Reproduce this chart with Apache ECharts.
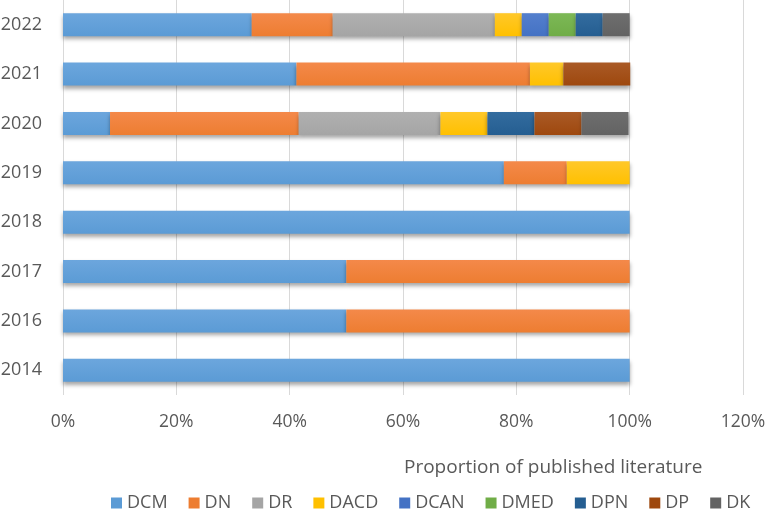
<!DOCTYPE html>
<html>
<head>
<meta charset="utf-8">
<script src="https://cdn.jsdelivr.net/npm/echarts@6/dist/echarts.min.js"></script>
<style>
  html, body { margin: 0; padding: 0; background: #fff; }
  #chart { width: 766px; height: 511px; }
</style>
</head>
<body>
<div id="chart"></div>
<script>
// categories, bottom to top
const years = ['2014', '2016', '2017', '2018', '2019', '2020', '2021', '2022'];
const xTicks = [0, 20, 40, 60, 80, 100, 120];

// share of published literature per year (%)
const DCM  = [100, 50, 50, 100, 77.8, 8.3, 41.2, 33.3];
const DN   = [null, 50, 50, null, 11.1, 33.3, 41.2, 14.3];
const DR   = [null, null, null, null, null, 25.0, null, 28.6];
const DACD = [null, null, null, null, 11.1, 8.3, 5.9, 4.76];
const DCAN = [null, null, null, null, null, null, null, 4.76];
const DMED = [null, null, null, null, null, null, null, 4.76];
const DPN  = [null, null, null, null, null, 8.3, null, 4.76];
const DP   = [null, null, null, null, null, 8.3, 11.8, null];
const DK   = [null, null, null, null, null, 8.3, null, 4.76];

const seriesList = [
  { name: 'DCM', data: DCM, color: '#5B9BD5', light: '#6CA6DD' },
  { name: 'DN', data: DN, color: '#ED7D31', light: '#F4894A' },
  { name: 'DR', data: DR, color: '#A5A5A5', light: '#B0B0B0' },
  { name: 'DACD', data: DACD, color: '#FFC000', light: '#FFC82A' },
  { name: 'DCAN', data: DCAN, color: '#4472C4', light: '#547FCD' },
  { name: 'DMED', data: DMED, color: '#70AD47', light: '#7CB856' },
  { name: 'DPN', data: DPN, color: '#255E91', light: '#336C9F' },
  { name: 'DP', data: DP, color: '#9E480E', light: '#AA5A26' },
  { name: 'DK', data: DK, color: '#636363', light: '#6E6E6E' }
];

const chart = echarts.init(document.getElementById('chart'));
const textColor = '#595959';
const font = '"Open Sans", "Liberation Sans", sans-serif';

const option = {
  animation: false,
  color: seriesList.map(s => s.color),
  title: {
    text: 'Proportion of published literature',
    left: 404,
    top: 458,
    padding: 0,
    textStyle: { color: textColor, fontSize: 19, fontWeight: 'normal', fontFamily: font }
  },
  legend: {
    left: 111,
    top: 494,
    padding: 0,
    itemWidth: 11,
    itemHeight: 11,
    itemGap: 21,
    icon: 'rect',
    textStyle: { color: textColor, fontSize: 18, fontFamily: font },
    data: seriesList.map(s => ({ name: s.name, itemStyle: { color: s.color } }))
  },
  grid: {
    left: 63,
    right: 23,
    top: 0,
    bottom: 116,
    containLabel: false,
    outerBoundsMode: 'none'
  },
  xAxis: {
    type: 'value',
    min: 0,
    max: 120,
    interval: 20,
    axisLine: { show: false },
    axisTick: { show: false },
    splitLine: { show: true, lineStyle: { color: '#D9D9D9', width: 1 } },
    axisLabel: {
      color: textColor,
      fontSize: 17.5,
      fontFamily: font,
      margin: 18,
      formatter: v => (xTicks.indexOf(v) >= 0 ? v + '%' : '')
    }
  },
  yAxis: {
    type: 'category',
    data: years,
    axisLine: { show: false },
    axisTick: { show: false },
    axisLabel: { color: textColor, fontSize: 18, fontFamily: font, margin: 21 }
  },
  series: seriesList.map(s => ({
    name: s.name,
    type: 'bar',
    stack: 'total',
    barWidth: 23,
    data: s.data,
    itemStyle: {
      color: new echarts.graphic.LinearGradient(0, 0, 0, 1, [
        { offset: 0, color: s.light },
        { offset: 1, color: s.color }
      ]),
      shadowColor: 'rgba(0, 0, 0, 0.35)',
      shadowBlur: 4,
      shadowOffsetY: 3
    }
  }))
};

chart.setOption(option);
</script>
</body>
</html>
